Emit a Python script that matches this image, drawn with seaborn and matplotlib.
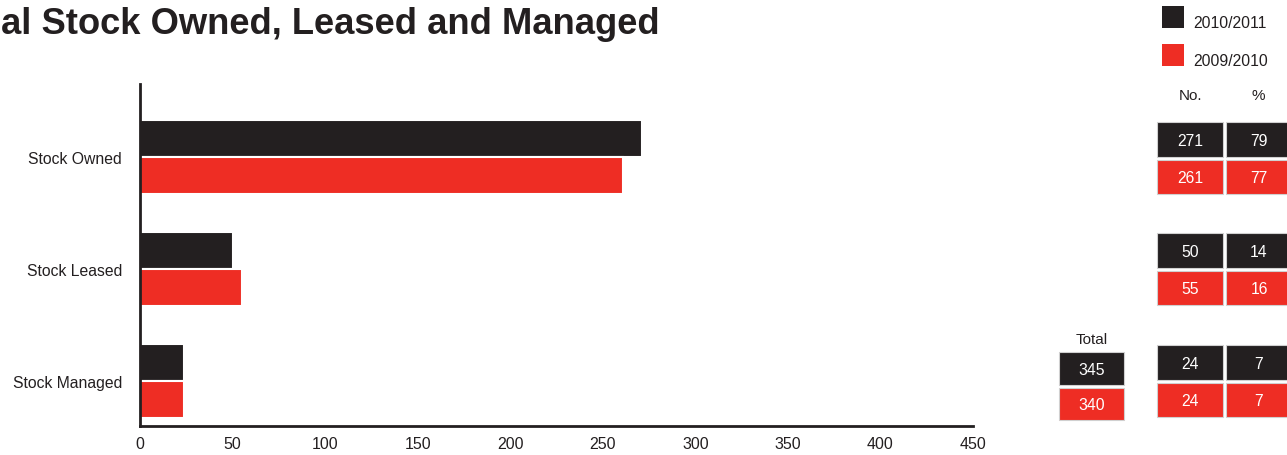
import matplotlib
matplotlib.use("Agg")
import matplotlib.pyplot as plt
import seaborn as sns
import pandas as pd
from matplotlib.patches import Rectangle

# ---- data ----
categories = ["Stock Owned", "Stock Leased", "Stock Managed"]
years = ["2010/2011", "2009/2010"]
no_2010_11 = [271, 50, 24]
no_2009_10 = [261, 55, 24]
pct_2010_11 = [79, 14, 7]
pct_2009_10 = [77, 16, 7]
total_2010_11 = 345
total_2009_10 = 340
x_ticks = [0, 50, 100, 150, 200, 250, 300, 350, 400, 450]
title = "al Stock Owned, Leased and Managed"

BLACK = "#231f20"
RED = "#ee2d24"
TXT = "#231f20"

df = pd.DataFrame({
    "category": categories * 2,
    "year": [years[0]] * 3 + [years[1]] * 3,
    "value": no_2010_11 + no_2009_10,
})

sns.set_theme(style="white")
plt.rcParams["font.family"] = ["Liberation Sans", "DejaVu Sans"]

W, H = 1287, 456
fig = plt.figure(figsize=(W / 100, H / 100), dpi=100)
ax = fig.add_axes([140 / W, 1 - 427 / H, 833 / W, 342 / H])

sns.barplot(data=df, y="category", x="value", hue="year", order=categories,
            hue_order=years, palette=[BLACK, RED], orient="h", width=0.66,
            edgecolor="white", linewidth=1.5, saturation=1, legend=False, ax=ax)

ax.set_xlim(0, 450)
ax.set_ylim(2.4, -0.65)
ax.set_xticks(x_ticks)
ax.set_xticklabels([str(t) for t in x_ticks], fontsize=11.5, color=TXT)
ax.set_yticklabels(categories, fontsize=11.3, color=TXT)
ax.set_xlabel("")
ax.set_ylabel("")
ax.tick_params(axis="x", direction="in", length=6, width=1.6, color=BLACK, pad=7)
ax.tick_params(axis="y", length=0, pad=13)
for s in ["top", "right"]:
    ax.spines[s].set_visible(False)
for s in ["left", "bottom"]:
    ax.spines[s].set_color(BLACK)
    ax.spines[s].set_linewidth(2)
ax.set_facecolor("none")

# ---- overlay in pixel coordinates ----
ov = fig.add_axes([0, 0, 1, 1])
ov.set_xlim(0, W)
ov.set_ylim(H, 0)
ov.axis("off")
ov.patch.set_alpha(0)

# title (as visible in the reference)
ov.text(1, 25, title, ha="left", va="center",
        fontsize=26.2, fontweight="bold", color=TXT)

# legend
for y0, col, lab in [(7, BLACK, years[0]), (45, RED, years[1])]:
    ov.add_patch(Rectangle((1162, y0), 22, 22, facecolor=col, edgecolor="none"))
    ov.text(1193, y0 + 16, lab, ha="left", va="center", fontsize=11.3, color=TXT)

# headers
ov.text(1190, 96, "No.", ha="center", va="center", fontsize=11, color=TXT)
ov.text(1258, 96, "%", ha="center", va="center", fontsize=11, color=TXT)
ov.text(1092, 340, "Total", ha="center", va="center", fontsize=11, color=TXT)

def cell(x0, y0, w, h, col, txt):
    ov.add_patch(Rectangle((x0, y0), w, h, facecolor=col, edgecolor="#d0d0d0",
                           linewidth=0.8))
    ov.text(x0 + w / 2, y0 + h / 2 + 1, txt, ha="center", va="center",
            fontsize=11.3, color="white")

row_tops = [123, 234, 346]
for i in range(3):
    yt = row_tops[i]
    cell(1157, yt, 66, 35, BLACK, str(no_2010_11[i]))
    cell(1226, yt, 66, 35, BLACK, str(pct_2010_11[i]))
    cell(1157, yt + 38, 66, 34, RED, str(no_2009_10[i]))
    cell(1226, yt + 38, 66, 34, RED, str(pct_2009_10[i]))

cell(1059, 353, 65, 33, BLACK, str(total_2010_11))
cell(1059, 389, 65, 32, RED, str(total_2009_10))

fig.savefig("out.png", dpi=100)
